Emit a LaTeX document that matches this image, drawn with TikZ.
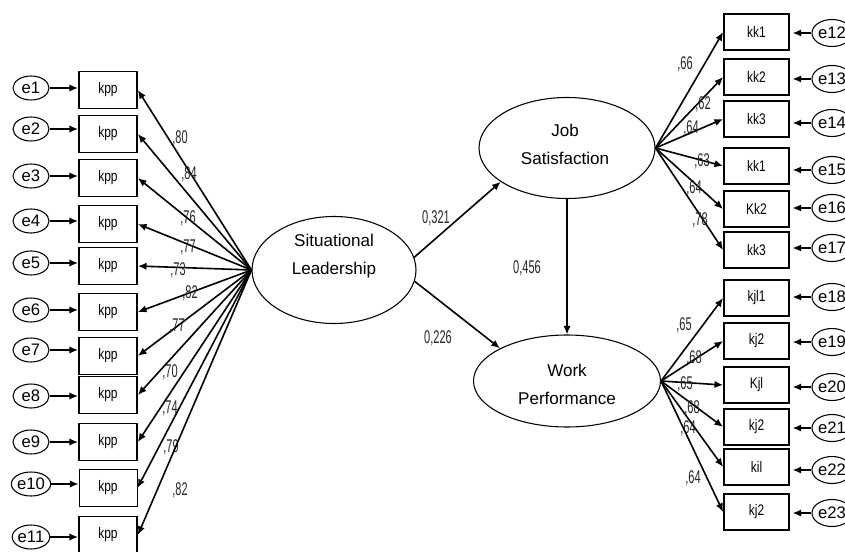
\documentclass[tikz,border=0pt]{standalone}
\usepackage{fontspec}
\setmainfont{Liberation Sans}
\newfontfamily\boxfont[FakeStretch=0.78]{Liberation Sans}
\newfontfamily\numfont[FakeStretch=0.6]{Liberation Sans}
\usetikzlibrary{arrows.meta,shapes.geometric}
\tikzset{
    arr/.style={line width=1.2pt,-{Latex[length=6.5pt,width=5.5pt]}},
    obs/.style={draw,line width=1.3pt,inner sep=0pt,minimum width=43.5pt,minimum height=27.75pt,font=\boxfont\fontsize{11.5}{13}\selectfont},
    obsr/.style={obs,minimum width=48.75pt,minimum height=27pt},
    err/.style={draw,ellipse,line width=0.8pt,inner sep=0pt,minimum width=27pt,minimum height=18pt,font=\fontsize{12.5}{14}\selectfont},
    errr/.style={err,minimum width=30pt,minimum height=20.25pt},
    lat/.style={draw,ellipse,line width=0.8pt},
    lattext/.style={align=center,inner sep=0pt,font=\fontsize{12.8}{21}\selectfont},
    load/.style={font=\numfont\fontsize{13.8}{15}\selectfont,text=black!85},
    b10/.style={line width=0.6pt}
}
\begin{document}
\begin{tikzpicture}[x=0.75pt,y=-0.75pt]
    \useasboundingbox (0,0) rectangle (845,552);
    % latent variables
    \node[lat,minimum width=123pt,minimum height=80.25pt] (sl) at (334,270) {};
    \node[lattext] (slt) at (334,256) {Situational\\Leadership};
    \node[lat,minimum width=132pt,minimum height=75.75pt] (js) at (567,148) {};
    \node[lattext] (jst) at (565,144) {Job\\Satisfaction};
    \node[lat,minimum width=140.25pt,minimum height=69pt] (wp) at (567,381) {};
    \node[lattext] (wpt) at (567,384) {Work\\Performance};
    % structural paths
    \draw[arr] (sl.9) -- (js.207);
    \node[load] at (436,218) {0,321};
    \draw[arr] (sl.-8) -- (wp.154);
    \node[load] at (438,338) {0,226};
    \draw[arr] (js.south) -- (wp.north);
    \node[load] at (527,268) {0,456};
    % situational leadership indicators
    \foreach \i/\ey/\by/\w/\lx/\ly in {1/88/90/80/180/138, 2/129/134/84/189/174, 3/176/178/76/188/218, 4/221/224/77/188/247, 5/263/266/73/178/270, 6/310/312/82/190/293, 7/350/356/77/177/326, 8/396/395/70/170/372, 9/442/442/74/170/408, 10/484/488/79/171/447, 11/537/535/82/180/490}{
        \node[err] (e\i) at (31,\ey) {e\i};
        \node[obs,b\i/.try] (b\i) at (108,\by) {kpp};
        \draw[arr] (e\i.east) -- (e\i.east -| b\i.west);
        \draw[arr] (sl.west) -- (b\i.east);
        \node[load] at (\lx,\ly) {,\w};
    }
    % job satisfaction indicators
    \foreach \i/\t/\by/\ey/\w/\lx/\ly in {12/kk1/32/33/66/685/64, 13/kk2/77/79/62/703/104, 14/kk3/119/123/64/691/128, 15/kk1/166/170/63/702/161, 16/Kk2/209/208/64/694/188, 17/kk3/250/248/78/700/220}{
        \node[obsr] (b\i) at (756.5,\by) {\t};
        \node[errr] (e\i) at (832,\ey) {e\i};
        \draw[arr] (e\i.west) -- ([xshift=2pt]e\i.west -| b\i.east);
        \draw[arr] (js.east) -- (b\i.west);
        \node[load] at (\lx,\ly) {,\w};
    }
    % work performance indicators
    \foreach \i/\t/\by/\ey/\w/\lx/\ly in {18/kjl1/298/297/65/684/325, 19/kj2/341/342/68/694/358, 20/Kjl/385/387/65/685/384, 21/kj2/427/428/68/692/408, 22/kil/467/470/64/688/428, 23/kj2/512/513/64/693/478}{
        \node[obsr] (b\i) at (756.5,\by) {\t};
        \node[errr] (e\i) at (832,\ey) {e\i};
        \draw[arr] (e\i.west) -- ([xshift=2pt]e\i.west -| b\i.east);
        \draw[arr] (wp.east) -- (b\i.west);
        \node[load] at (\lx,\ly) {,\w};
    }
\end{tikzpicture}
\end{document}
